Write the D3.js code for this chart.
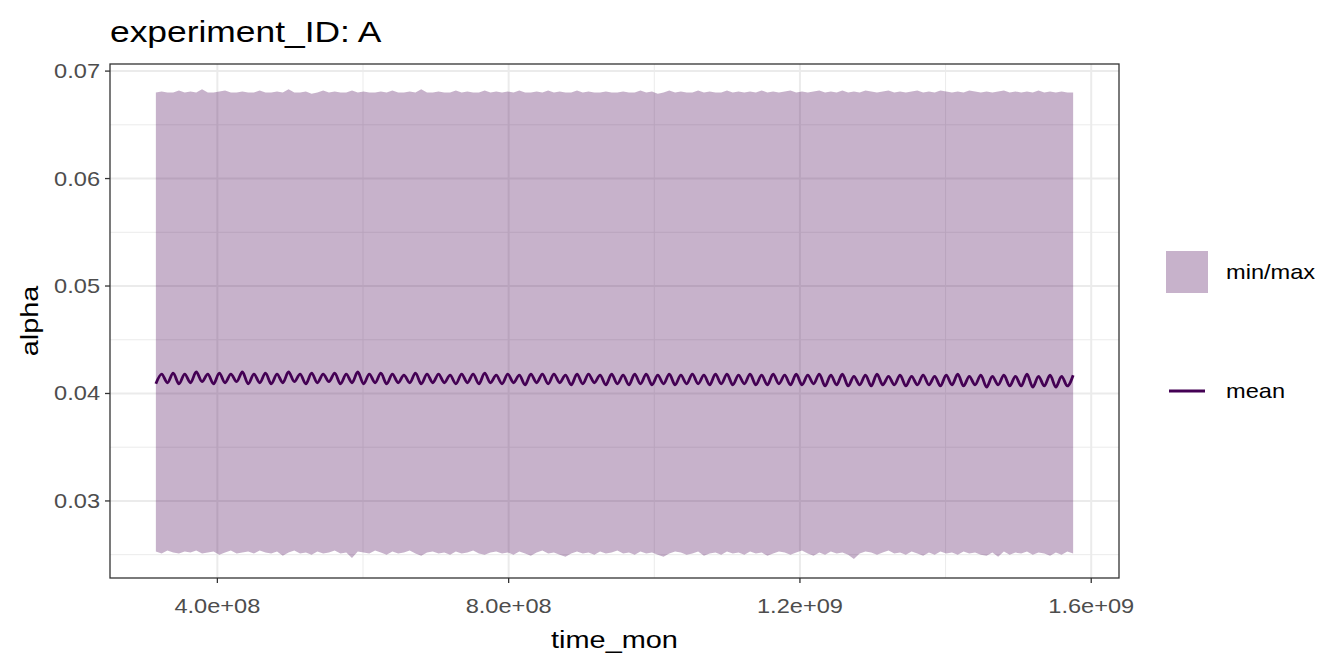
<!DOCTYPE html>
<html>
<head>
<meta charset="utf-8">
<script src="https://d3js.org/d3.v7.min.js"></script>
<style>
  body { margin: 0; background: #fff; }
  text { font-family: "Liberation Sans", Arial, sans-serif; }
</style>
</head>
<body>
<div id="chart"></div>
<script>
    // quarterly samples, Jan 1980 .. Dec 2019 (seconds since epoch)
    var timeStart = 315532800, timeEnd = 1575158400, nPoints = 160;

    var meanVals = [
        0.0409,0.0418, 0.0410,0.0419, 0.0409,0.0418, 0.0410,0.0420, 0.0411,0.0418, 0.0409,0.0419, 0.0410,0.0418, 0.0411,0.0420, 0.0409,0.0418, 0.0410,0.0419,
        0.0409,0.0418, 0.0410,0.0420, 0.0411,0.0418, 0.0409,0.0419, 0.0410,0.0418, 0.0411,0.0419, 0.0409,0.0418, 0.0410,0.0420, 0.0409,0.0418, 0.0410,0.0419,
        0.0409,0.0418, 0.0410,0.0417, 0.0410,0.0419, 0.0409,0.0418, 0.0410,0.0418, 0.0410,0.0417, 0.0409,0.0418, 0.0410,0.0418, 0.0409,0.0419, 0.0410,0.0417,
        0.0409,0.0418, 0.0410,0.0417, 0.0408,0.0418, 0.0410,0.0418, 0.0409,0.0418, 0.0410,0.0417, 0.0408,0.0418, 0.0409,0.0418, 0.0410,0.0417, 0.0408,0.0418,
        0.0409,0.0417, 0.0408,0.0418, 0.0409,0.0418, 0.0408,0.0417, 0.0409,0.0418, 0.0408,0.0417, 0.0409,0.0418, 0.0409,0.0417, 0.0408,0.0418, 0.0409,0.0418,
        0.0408,0.0417, 0.0409,0.0418, 0.0408,0.0417, 0.0408,0.0418, 0.0409,0.0417, 0.0408,0.0418, 0.0408,0.0417, 0.0409,0.0418, 0.0407,0.0417, 0.0408,0.0418,
        0.0407,0.0416, 0.0408,0.0417, 0.0407,0.0418, 0.0408,0.0416, 0.0408,0.0417, 0.0407,0.0416, 0.0408,0.0417, 0.0408,0.0416, 0.0407,0.0417, 0.0408,0.0418,
        0.0407,0.0416, 0.0408,0.0417, 0.0406,0.0416, 0.0408,0.0417, 0.0407,0.0416, 0.0407,0.0418, 0.0406,0.0416, 0.0407,0.0417, 0.0406,0.0416, 0.0407,0.0417
    ];
    var maxVals = [
        0.0680,0.0681,0.0680,0.0680,0.0682,0.0680,0.0681,0.0680,0.0683,0.0680,
        0.0680,0.0681,0.0682,0.0680,0.0680,0.0681,0.0680,0.0680,0.0682,0.0680,
        0.0680,0.0681,0.0680,0.0683,0.0680,0.0680,0.0681,0.0679,0.0680,0.0682,
        0.0680,0.0681,0.0680,0.0680,0.0682,0.0680,0.0681,0.0680,0.0680,0.0681,
        0.0680,0.0682,0.0680,0.0680,0.0681,0.0680,0.0683,0.0680,0.0680,0.0681,
        0.0680,0.0680,0.0682,0.0680,0.0681,0.0680,0.0680,0.0682,0.0680,0.0681,
        0.0680,0.0681,0.0680,0.0682,0.0680,0.0680,0.0681,0.0680,0.0682,0.0680,
        0.0681,0.0680,0.0680,0.0682,0.0680,0.0681,0.0680,0.0680,0.0681,0.0680,
        0.0680,0.0681,0.0680,0.0680,0.0682,0.0680,0.0681,0.0679,0.0680,0.0682,
        0.0680,0.0681,0.0680,0.0680,0.0682,0.0680,0.0681,0.0680,0.0680,0.0682,
        0.0680,0.0681,0.0680,0.0681,0.0680,0.0682,0.0680,0.0681,0.0680,0.0681,
        0.0682,0.0680,0.0681,0.0680,0.0681,0.0682,0.0680,0.0681,0.0680,0.0682,
        0.0680,0.0681,0.0680,0.0682,0.0681,0.0680,0.0681,0.0682,0.0680,0.0681,
        0.0680,0.0681,0.0682,0.0680,0.0681,0.0680,0.0682,0.0681,0.0680,0.0681,
        0.0680,0.0682,0.0681,0.0680,0.0681,0.0680,0.0681,0.0682,0.0680,0.0681,
        0.0680,0.0681,0.0680,0.0682,0.0680,0.0681,0.0680,0.0681,0.0680,0.0680
    ];
    var minVals = [
        0.0253,0.0251,0.0254,0.0252,0.0251,0.0253,0.0252,0.0254,0.0251,0.0252,
        0.0253,0.0250,0.0252,0.0254,0.0251,0.0252,0.0253,0.0251,0.0254,0.0252,
        0.0251,0.0253,0.0249,0.0252,0.0254,0.0251,0.0252,0.0250,0.0253,0.0251,
        0.0252,0.0254,0.0251,0.0252,0.0247,0.0253,0.0252,0.0251,0.0254,0.0252,
        0.0250,0.0253,0.0251,0.0252,0.0254,0.0251,0.0249,0.0252,0.0253,0.0251,
        0.0252,0.0250,0.0253,0.0251,0.0252,0.0254,0.0251,0.0250,0.0252,0.0253,
        0.0251,0.0252,0.0250,0.0253,0.0251,0.0249,0.0252,0.0254,0.0251,0.0252,
        0.0250,0.0248,0.0251,0.0253,0.0251,0.0252,0.0250,0.0253,0.0251,0.0252,
        0.0254,0.0251,0.0252,0.0250,0.0253,0.0251,0.0252,0.0250,0.0248,0.0251,
        0.0253,0.0252,0.0250,0.0251,0.0253,0.0249,0.0251,0.0252,0.0250,0.0253,
        0.0251,0.0252,0.0250,0.0253,0.0251,0.0252,0.0249,0.0251,0.0253,0.0252,
        0.0250,0.0252,0.0254,0.0251,0.0249,0.0252,0.0250,0.0253,0.0251,0.0252,
        0.0250,0.0246,0.0251,0.0253,0.0252,0.0250,0.0252,0.0254,0.0251,0.0252,
        0.0250,0.0253,0.0251,0.0249,0.0252,0.0250,0.0253,0.0251,0.0252,0.0250,
        0.0253,0.0251,0.0252,0.0250,0.0249,0.0252,0.0248,0.0253,0.0250,0.0252,
        0.0251,0.0253,0.0250,0.0252,0.0251,0.0249,0.0252,0.0250,0.0253,0.0251
    ];
    var xTicks = [4e8, 8e8, 1.2e9, 1.6e9];
    var xMinor = [6e8, 1e9, 1.4e9];
    var yTicks = [0.03, 0.04, 0.05, 0.06, 0.07];
    var yMinor = [0.025, 0.035, 0.045, 0.055, 0.065];
    var legendLabels = ["min/max", "mean"];

    var purple = "#440154";
    var SX = 1.18; // text in the reference is a bit wider than tall

    var data = [];
    var step = (timeEnd - timeStart) / (nPoints - 1);
    for (var i = 0; i < nPoints; i++) {
        data.push({ t: timeStart + i * step, mean: meanVals[i], lo: minVals[i], hi: maxVals[i] });
    }

    var W = 1344, H = 672;
    var panel = { left: 110, right: 1119, top: 64, bottom: 578 };

    var xPad = (timeEnd - timeStart) * 0.05;
    var x = d3.scaleLinear()
        .domain([timeStart - xPad, timeEnd + xPad])
        .range([panel.left, panel.right]);
    var y = d3.scaleLinear()
        .domain([0.02283, 0.07066])
        .range([panel.bottom, panel.top]);

    var svg = d3.select("#chart").append("svg")
        .attr("width", W)
        .attr("height", H);

    function label(g, px, py, str, size, anchor, fill, rot) {
        var tr = "translate(" + px + "," + py + ")" + (rot ? " rotate(" + rot + ")" : "") + " scale(" + SX + ",1)";
        return g.append("text")
            .attr("transform", tr)
            .attr("text-anchor", anchor)
            .attr("font-size", size)
            .attr("fill", fill)
            .text(str);
    }

    // panel background + grid
    svg.append("rect")
        .attr("x", panel.left).attr("y", panel.top)
        .attr("width", panel.right - panel.left).attr("height", panel.bottom - panel.top)
        .attr("fill", "#fff");

    var grid = svg.append("g");
    grid.selectAll(".ym").data(yMinor).enter().append("line")
        .attr("x1", panel.left).attr("x2", panel.right)
        .attr("y1", function (d) { return y(d); }).attr("y2", function (d) { return y(d); })
        .attr("stroke", "#ebebeb").attr("stroke-width", 1);
    grid.selectAll(".xm").data(xMinor).enter().append("line")
        .attr("y1", panel.top).attr("y2", panel.bottom)
        .attr("x1", function (d) { return x(d); }).attr("x2", function (d) { return x(d); })
        .attr("stroke", "#ebebeb").attr("stroke-width", 1);
    grid.selectAll(".yM").data(yTicks).enter().append("line")
        .attr("x1", panel.left).attr("x2", panel.right)
        .attr("y1", function (d) { return y(d); }).attr("y2", function (d) { return y(d); })
        .attr("stroke", "#ebebeb").attr("stroke-width", 2);
    grid.selectAll(".xM").data(xTicks).enter().append("line")
        .attr("y1", panel.top).attr("y2", panel.bottom)
        .attr("x1", function (d) { return x(d); }).attr("x2", function (d) { return x(d); })
        .attr("stroke", "#ebebeb").attr("stroke-width", 2);

    // min/max ribbon
    var area = d3.area()
        .x(function (d) { return x(d.t); })
        .y0(function (d) { return y(d.lo); })
        .y1(function (d) { return y(d.hi); });
    svg.append("path")
        .datum(data)
        .attr("d", area)
        .attr("fill", purple)
        .attr("fill-opacity", 0.3);

    // mean line
    var line = d3.line()
        .x(function (d) { return x(d.t); })
        .y(function (d) { return y(d.mean); })
        .curve(d3.curveMonotoneX);
    svg.append("path")
        .datum(data)
        .attr("d", line)
        .attr("fill", "none")
        .attr("stroke", purple)
        .attr("stroke-width", 2.8)
        .attr("stroke-linejoin", "round");

    // panel border
    svg.append("rect")
        .attr("x", panel.left).attr("y", panel.top)
        .attr("width", panel.right - panel.left).attr("height", panel.bottom - panel.top)
        .attr("fill", "none")
        .attr("stroke", "#333")
        .attr("stroke-width", 1.3);

    // axes
    var axisG = svg.append("g");
    yTicks.forEach(function (d) {
        axisG.append("line")
            .attr("x1", panel.left - 5).attr("x2", panel.left)
            .attr("y1", y(d)).attr("y2", y(d))
            .attr("stroke", "#333").attr("stroke-width", 1.3);
        label(axisG, panel.left - 10, y(d) + 7, d3.format(".2f")(d), 20, "end", "#4d4d4d");
    });
    xTicks.forEach(function (d) {
        axisG.append("line")
            .attr("x1", x(d)).attr("x2", x(d))
            .attr("y1", panel.bottom).attr("y2", panel.bottom + 5)
            .attr("stroke", "#333").attr("stroke-width", 1.3);
        var s = d.toExponential(1).replace(/e\+(\d)$/, "e+0$1");
        label(axisG, x(d), panel.bottom + 35, s, 20, "middle", "#4d4d4d");
    });

    label(svg, (panel.left + panel.right) / 2, 648, "time_mon", 24.5, "middle", "#000");
    label(svg, 38, (panel.top + panel.bottom) / 2, "alpha", 24.5, "middle", "#000", -90);
    label(svg, panel.left, 42, "experiment_ID: A", 30, "start", "#000");

    // legend
    var leg = svg.append("g");
    leg.append("rect")
        .attr("x", 1166).attr("y", 251)
        .attr("width", 42).attr("height", 42)
        .attr("fill", purple).attr("fill-opacity", 0.3);
    label(leg, 1226, 279, legendLabels[0], 20, "start", "#000");
    leg.append("line")
        .attr("x1", 1169).attr("x2", 1205)
        .attr("y1", 391).attr("y2", 391)
        .attr("stroke", purple).attr("stroke-width", 2.8);
    label(leg, 1226, 398, legendLabels[1], 20, "start", "#000");
</script>
</body>
</html>
